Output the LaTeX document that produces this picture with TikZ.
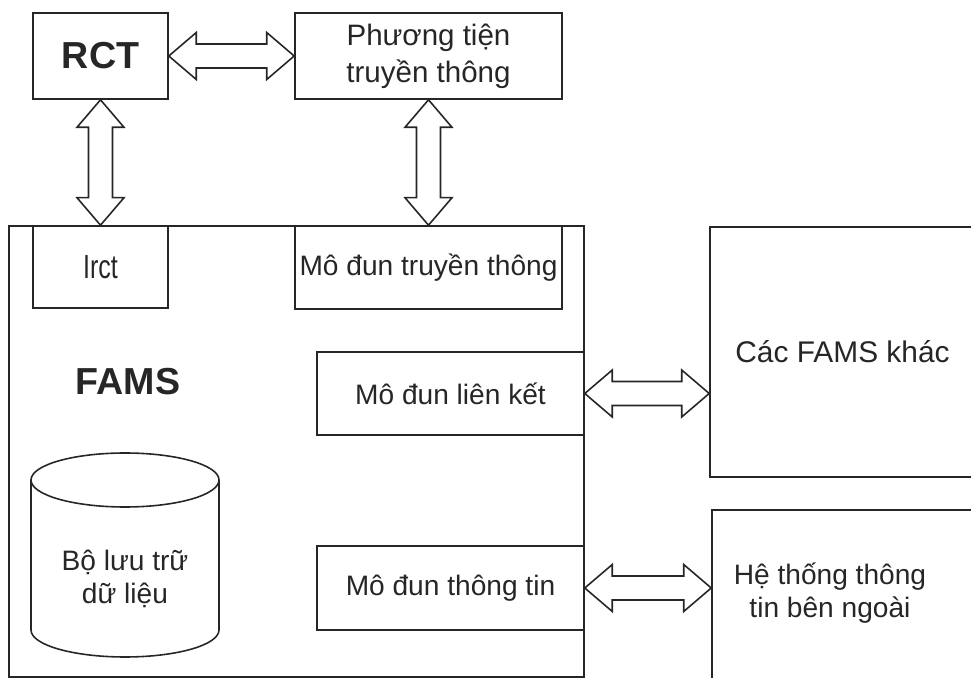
\documentclass[tikz,border=0pt]{standalone}
\usepackage{fontspec}
\usepackage{graphicx}
\setmainfont{Liberation Sans}
\usetikzlibrary{calc}

\newcommand{\ahl}{2.75mm}
\newcommand{\ahw}{2.35mm}
\newcommand{\asw}{1.2mm}
\newcommand{\harr}[2]{%
  \draw [arr] let \p1=(#1), \p2=(#2) in
    (\x1,\y1) -- (\x1+\ahl,\y1+\ahw) -- (\x1+\ahl,\y1+\asw) -- (\x2-\ahl,\y1+\asw) -- (\x2-\ahl,\y1+\ahw) -- (\x2,\y1)
    -- (\x2-\ahl,\y1-\ahw) -- (\x2-\ahl,\y1-\asw) -- (\x1+\ahl,\y1-\asw) -- (\x1+\ahl,\y1-\ahw) -- cycle;}
\newcommand{\varr}[2]{%
  \draw [arr] let \p1=(#1), \p2=(#2) in
    (\x1,\y1) -- (\x1+\ahw,\y1-\ahl) -- (\x1+\asw,\y1-\ahl) -- (\x1+\asw,\y2+\ahl) -- (\x1+\ahw,\y2+\ahl) -- (\x1,\y2)
    -- (\x1-\ahw,\y2+\ahl) -- (\x1-\asw,\y2+\ahl) -- (\x1-\asw,\y1-\ahl) -- (\x1-\ahw,\y1-\ahl) -- cycle;}

\begin{document}
\begin{tikzpicture}[x=0.1mm, y=-0.1mm, line width=0.45pt, black!85,
  box/.style={draw, rectangle, inner sep=0pt, align=center, font=\fontsize{8}{9.4}\selectfont},
  txt/.style={inner sep=0pt, align=center, font=\fontsize{8}{9.4}\selectfont},
  bigtxt/.style={font=\fontsize{10.7}{12}\selectfont\bfseries},
  arr/.style={draw, line join=miter}]
\useasboundingbox (0,0) rectangle (971,678);
\clip (0,0) rectangle (971,678);

\node[box, bigtxt, minimum width=13.5mm, minimum height=8.6mm] (rct) at (100.5,56) {RCT};
\node[box, minimum width=26.7mm, minimum height=8.6mm, font=\fontsize{8.4}{10.6}\selectfont] (ptien) at (428.5,56)
  {Phương tiện\\truyền thông};

\node[box, minimum width=57.5mm, minimum height=45.1mm] (fams) at (296.5,451.5) {};
\node[box, minimum width=13.5mm, minimum height=8.2mm] (irct) at (100.5,267)
  {\scalebox{0.75}[1]{\fontsize{9.5}{10}\selectfont Irct}};
\node[box, minimum width=26.7mm, minimum height=8.3mm] (mdtt) at (428.5,267.5) {Mô đun truyền thông};
\node[bigtxt] (famslbl) at (128,382) {FAMS};
\node[box, minimum width=26.7mm, minimum height=8.3mm] (lienket) at (450.5,393.5) {Mô đun liên kết};
\node[box, minimum width=26.7mm, minimum height=8.4mm] (thongtin) at (450.5,588) {Mô đun thông tin};

\draw (31,480) -- (31,630) arc[start angle=180, end angle=360, x radius=9.4mm, y radius=2.7mm] -- (219,480);
\draw (125,480) ellipse [x radius=9.4mm, y radius=2.7mm];
\node[txt] (store) at (125,579) {Bộ lưu trữ\\dữ liệu};

\node[box, minimum width=26.5mm, minimum height=25mm, font=\fontsize{8.5}{10}\selectfont] (cacfams) at (842.5,352)
  {Các FAMS khác};
\node[box, minimum width=27.8mm, minimum height=18mm] (hethong) at (851,600) {};
\node[txt] (hethongtxt) at (830,593) {Hệ thống thông\\tin bên ngoài};

\harr{rct.east}{ptien.west}
\varr{rct.south}{irct.north}
\varr{ptien.south}{mdtt.north}
\harr{lienket.east}{cacfams.west}
\harr{thongtin.east}{hethong.west}
\end{tikzpicture}
\end{document}
